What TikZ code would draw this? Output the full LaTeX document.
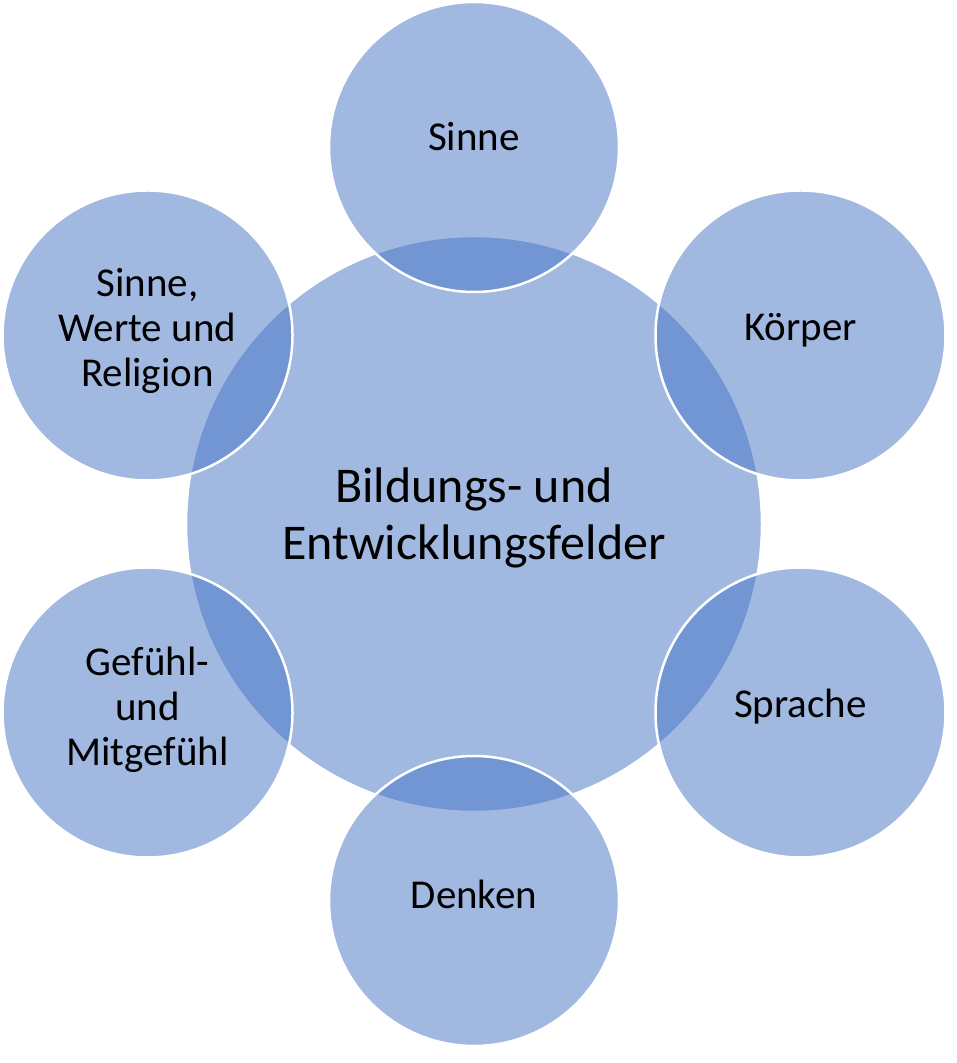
\documentclass[tikz,border=0pt]{standalone}
\usepackage{fontspec}
\setmainfont{Carlito}
\usetikzlibrary{calc}
\definecolor{sablue}{HTML}{4472C4}
\tikzset{
  hub/.style={circle, minimum size=576pt, inner sep=0pt, fill=sablue, fill opacity=0.5, text opacity=1, draw=white, draw opacity=1, line width=2.5pt, align=center, font=\fontsize{50}{57}\selectfont},
  sat/.style={circle, minimum size=290pt, inner sep=0pt, fill=sablue, fill opacity=0.5, text opacity=1, draw=white, draw opacity=1, line width=2.5pt, align=center, font=\fontsize{41}{45}\selectfont},
  lift/.style={text height=0.75em-#1, text depth=0.25em+#1}
}
\begin{document}
\begin{tikzpicture}[x=1pt,y=1pt]
\useasboundingbox (0,0) rectangle (957,1063);
\coordinate (c) at (474,539);
\coordinate (p1) at ($(c)+(90:377)$);
\coordinate (p2) at ($(c)+(30:377)$);
\coordinate (p3) at ($(c)+(-30:377)$);
\coordinate (p4) at ($(c)+(-90:377)$);
\coordinate (p5) at ($(c)+(-150:377)$);
\coordinate (p6) at ($(c)+(150:377)$);
\node[hub] (center) at (c) {};
\node[sat] (sinne) at (p1) {};
\node[sat] (koerper) at (p2) {};
\node[sat] (sprache) at (p3) {};
\node[sat] (denken) at (p4) {};
\node[sat] (gefuehl) at (p5) {};
\node[sat] (werte) at (p6) {};
\node[align=center, font=\fontsize{50}{57}\selectfont] (tcenter) at ($(center.center)+(0,6)$) {Bildungs- und\\Entwicklungsfelder};
\node[font=\fontsize{41}{45}\selectfont] (tsinne) at ($(sinne.center)+(0,10)$) {Sinne};
\node[font=\fontsize{41}{45}\selectfont] (tkoerper) at ($(koerper.center)+(0,5)$) {Körper};
\node[font=\fontsize{41}{45}\selectfont] (tsprache) at ($(sprache.center)+(0,6)$) {Sprache};
\node[font=\fontsize{41}{45}\selectfont] (tdenken) at ($(denken.center)+(0,7)$) {Denken};
\node[align=center, font=\fontsize{41}{45}\selectfont] (tgefuehl) at ($(gefuehl.center)+(0,3)$) {Gefühl-\\und\\Mitgefühl};
\node[align=center, font=\fontsize{41}{45}\selectfont] (twerte) at ($(werte.center)+(0,5)$) {Sinne,\\Werte und\\Religion};
\end{tikzpicture}
\end{document}
